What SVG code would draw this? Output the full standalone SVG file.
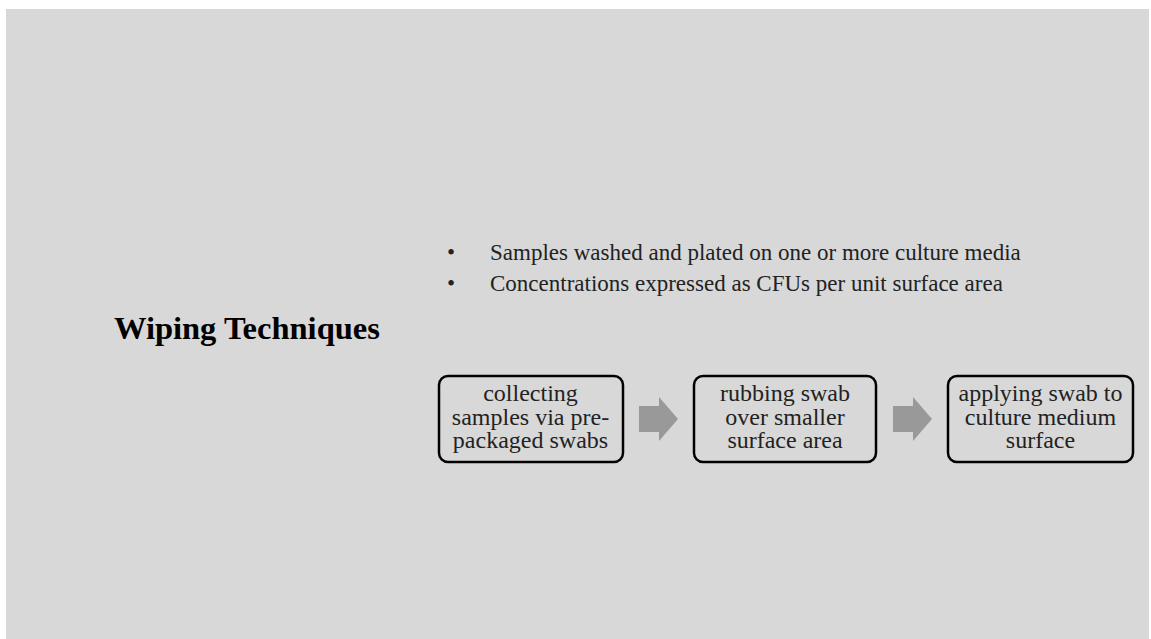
<svg xmlns="http://www.w3.org/2000/svg" width="1151" height="639" viewBox="0 0 1151 639">
  <style>
    .title { font-family: "Liberation Serif", "Times New Roman", serif; font-weight: bold; font-size: 32.5px; fill: #000; }
    .bullet { font-family: "Liberation Serif", "Times New Roman", serif; font-size: 23px; fill: #222; }
    .box { fill: #d8d8d8; stroke: #000; stroke-width: 2.5; }
    .label { font-family: "Liberation Serif", "Times New Roman", serif; font-size: 24px; fill: #222; text-anchor: middle; }
    .arrow { fill: #999999; }
  </style>
  <rect x="0" y="0" width="1151" height="639" fill="#ffffff"/>
  <rect x="6" y="9" width="1143" height="630" fill="#d8d8d8"/>

  <text class="title" x="114" y="339">Wiping Techniques</text>

  <g id="bullets">
    <text class="bullet" x="447" y="260">•</text>
    <text class="bullet" x="490" y="260">Samples washed and plated on one or more culture media</text>
    <text class="bullet" x="447" y="291">•</text>
    <text class="bullet" x="490" y="291">Concentrations expressed as CFUs per unit surface area</text>
  </g>

  <g id="step1">
    <rect class="box" x="439" y="376" width="184" height="86" rx="9"/>
    <text class="label" x="530.5" y="401">collecting</text>
    <text class="label" x="530.5" y="424.5">samples via pre-</text>
    <text class="label" x="530.5" y="448">packaged swabs</text>
  </g>
  <g id="step2">
    <rect class="box" x="694" y="376" width="182" height="86" rx="9"/>
    <text class="label" x="785" y="401">rubbing swab</text>
    <text class="label" x="785" y="424.5">over smaller</text>
    <text class="label" x="785" y="448">surface area</text>
  </g>
  <g id="step3">
    <rect class="box" x="948" y="376" width="185" height="86" rx="9"/>
    <text class="label" x="1040.5" y="401">applying swab to</text>
    <text class="label" x="1040.5" y="424.5">culture medium</text>
    <text class="label" x="1040.5" y="448">surface</text>
  </g>

  <g id="connectors">
    <polygon class="arrow" points="639,406 659,406 659,397 678,419 659,441 659,432 639,432"/>
    <polygon class="arrow" points="893,406 913,406 913,397 932,419 913,441 913,432 893,432"/>
  </g>
</svg>
